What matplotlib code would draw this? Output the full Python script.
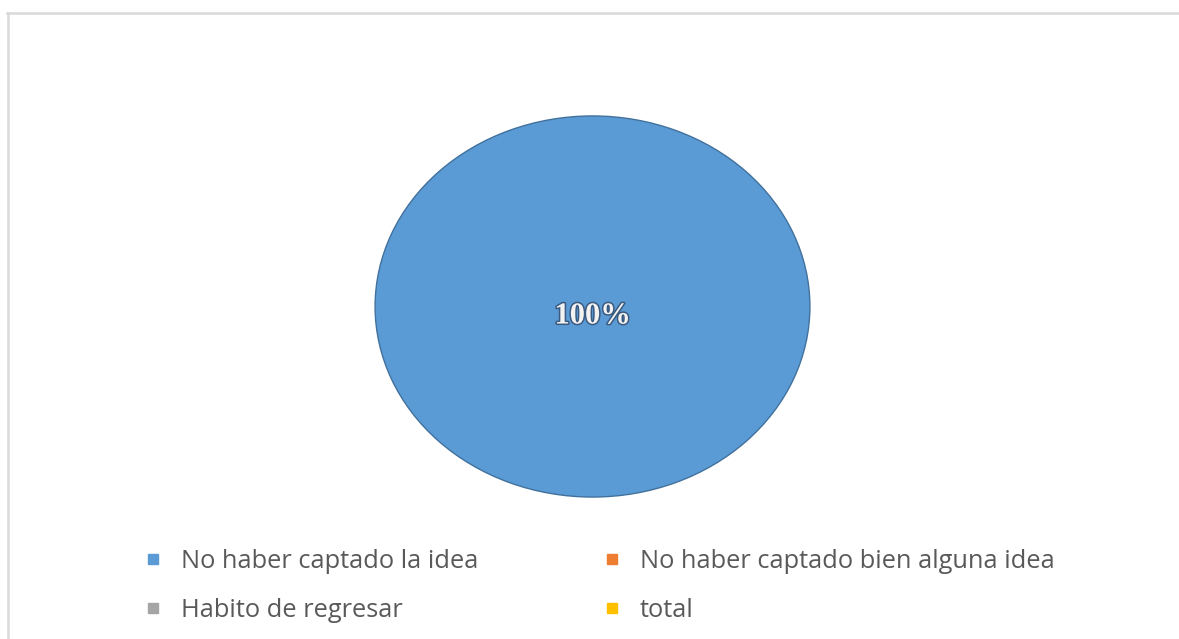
"""Pie chart: motivos de regresión en la lectura."""

import matplotlib
matplotlib.use("Agg")
import matplotlib.pyplot as plt
import matplotlib.patheffects as pe
from matplotlib.lines import Line2D

categories = [
    "No haber captado la idea",
    "No haber captado bien alguna idea",
    "Habito de regresar",
    "total",
]
values = [100, 0, 0, 0]
colors = ["#5B9BD5", "#ED7D31", "#A5A5A5", "#FFC000"]

W, H = 1179, 639
fig = plt.figure(figsize=(W / 100, H / 100), dpi=100)
fig.patch.set_facecolor("white")

# light chart-area frame (top and left edges only visible)
fig.add_artist(Line2D([7 / W, 1], [1 - 13 / H, 1 - 13 / H], color="#D9D9D9", lw=1.8))
fig.add_artist(Line2D([8 / W, 8 / W], [0, 1 - 13 / H], color="#D9D9D9", lw=1.8))

# pie axes placed on the ellipse bounding box
ax = fig.add_axes([374 / W, 1 - 498 / H, 437 / W, 383 / H])


def pct(p):
    return f"{p:.0f}%" if p > 0 else ""


wedges, texts, autotexts = ax.pie(
    values,
    colors=colors,
    startangle=90,
    counterclock=False,
    autopct=pct,
    pctdistance=0.05,
    radius=1,
    wedgeprops=dict(edgecolor="#41719C", linewidth=1.0),
)
# empty slices get no outline
for w, v in zip(wedges, values):
    if v == 0:
        w.set_linewidth(0)
ax.set_aspect("auto")
ax.set_xlim(-1.005, 1.005)
ax.set_ylim(-1.005, 1.005)

for t in autotexts:
    t.set_fontfamily("Liberation Serif")
    t.set_fontweight("bold")
    t.set_fontsize(22)
    t.set_color("#F2F2F2")
    t.set_path_effects([
        pe.withStroke(linewidth=2.2, foreground="#3A5A80"),
    ])

handles = [
    Line2D([], [], marker="s", linestyle="none", markersize=6.5,
           markerfacecolor=c, markeredgecolor=c)
    for c in colors
]
# legend fills column-wise, reorder so it reads row by row
order = [0, 2, 1, 3]
leg = fig.legend(
    [handles[i] for i in order],
    [categories[i] for i in order],
    loc="upper left",
    bbox_to_anchor=(121 / W, 1 - 526 / H),
    ncol=2,
    frameon=False,
    prop={"family": "Open Sans", "size": 18.3},
    labelcolor="#595959",
    handlelength=0.7,
    handletextpad=0.75,
    columnspacing=4.9,
    labelspacing=0.95,
)

fig.savefig("out.png", dpi=100)
